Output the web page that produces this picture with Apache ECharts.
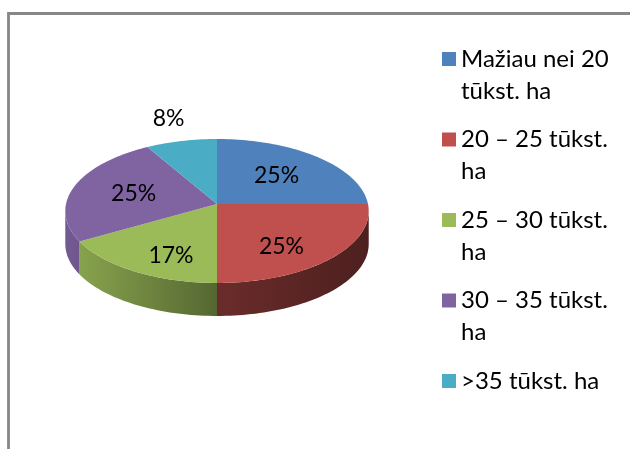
<!DOCTYPE html>
<html><head><meta charset="utf-8">
<script src="https://cdn.jsdelivr.net/npm/echarts@6/dist/echarts.min.js"></script>
<style>html,body{margin:0;padding:0;background:#fff}#c{width:630px;height:449px}</style>
</head><body><div id="c"></div>
<script>
// ---- data ----
const categories = ['Mažiau nei 20 tūkst. ha', '20 – 25 tūkst. ha', '25 – 30 tūkst. ha', '30 – 35 tūkst. ha', '>35 tūkst. ha'];
const legendLabels = ['Mažiau nei 20\ntūkst. ha', '20 – 25 tūkst.\nha', '25 – 30 tūkst.\nha', '30 – 35 tūkst.\nha', '>35 tūkst. ha'];
const values = [3, 3, 2, 3, 1];
const colors = ['#4F81BD', '#C0504D', '#9BBB59', '#8064A2', '#4BACC6'];

// ---- 3D pie geometry (perspective ellipse) ----
const total = values.reduce((a, b) => a + b, 0);
const CX = 217, CY = 204, RX = 151, RY = 71.3, K = 0.0972, DEPTH = 33;
const FRONT0 = Math.acos(-K) * 180 / Math.PI;      // ~95.6 deg
const FRONT1 = 360 - FRONT0;                        // ~264.4 deg
function proj(deg, f) {
  const a = deg * Math.PI / 180;
  const u = Math.sin(a) * f, v = Math.cos(a) * f;
  const w = 1 + K * v;
  return [CX + RX * u / w, CY - RY * v / w];
}
function shade(hex, k) {
  const n = parseInt(hex.slice(1), 16);
  const r = Math.round(((n >> 16) & 255) * k), g = Math.round(((n >> 8) & 255) * k), b = Math.round((n & 255) * k);
  return 'rgb(' + r + ',' + g + ',' + b + ')';
}
function arc(a0, a1, dy) {
  const pts = [];
  const n = Math.max(2, Math.ceil((a1 - a0) / 1.5));
  for (let k = 0; k <= n; k++) { const p = proj(a0 + (a1 - a0) * k / n, 1); pts.push([p[0], p[1] + dy]); }
  return pts;
}
function makeRender(i) {
  return function (params, api) {
    const v = api.value(0);
    let start = 0;
    for (let j = 0; j < i; j++) start += values[j];
    const a0 = start / total * 360, a1 = (start + v) / total * 360;
    const col = colors[i];
    const children = [];
    // top face
    const top = [proj(0, 0)].concat(arc(a0, a1, 0));
    children.push({ type: 'polygon', shape: { points: top }, style: { fill: col }, z2: 10 });
    // front wall
    const lo = Math.max(a0, FRONT0), hi = Math.min(a1, FRONT1);
    if (hi > lo) {
      const upper = arc(lo, hi, 0);
      const lower = arc(lo, hi, DEPTH).reverse();
      children.push({
        type: 'polygon', shape: { points: upper.concat(lower) }, z2: 2,
        style: {
          fill: {
            type: 'linear', x: CX - RX, y: 0, x2: CX + RX, y2: 0, global: true,
            colorStops: [
              { offset: 0, color: shade(col, 0.9) },
              { offset: 0.5, color: shade(col, 0.55) },
              { offset: 1, color: shade(col, 0.4) }
            ]
          }
        }
      });
    }
    // label
    const share = v / total;
    const mid = (a0 + a1) / 2;
    const outside = share < 0.1;
    const p = proj(mid, outside ? 1.4 : 0.58);
    const drop = outside ? 0 : 16.5 * Math.max(0, -Math.cos(mid * Math.PI / 180));
    children.push({
      type: 'text', z2: 20,
      style: {
        text: Math.round(share * 100) + '%', x: p[0], y: p[1] + drop,
        align: 'center', verticalAlign: 'middle',
        fontFamily: 'Lato', fontSize: 23, fill: '#000'
      }
    });
    return { type: 'group', children: children };
  };
}

const chart = echarts.init(document.getElementById('c'), null, { renderer: 'canvas' });
chart.setOption({
  animation: false,
  color: colors,
  graphic: [{
    type: 'rect', silent: true, z: -1,
    shape: { x: 8.5, y: 13.5, width: 700, height: 500 },
    style: { fill: 'none', stroke: '#878787', lineWidth: 2.8 }
  }],
  legend: {
    orient: 'vertical', left: 442, top: 11, padding: 0,
    itemWidth: 14, itemHeight: 14, itemGap: -15.5, icon: 'rect',
    selectedMode: false,
    textStyle: { fontFamily: 'Lato', fontSize: 24, color: '#000', lineHeight: 32 },
    formatter: function (name) {
      const label = legendLabels[categories.indexOf(name)];
      // keep first line level with the marker: one blank line above, pad to 3 lines
      return '\n' + label + (label.indexOf('\n') < 0 ? '\n' : '');
    },
    data: categories
  },
  series: categories.map((name, i) => ({
    type: 'custom', name: name, coordinateSystem: 'none',
    renderItem: makeRender(i), data: [values[i]],
    itemStyle: { color: colors[i] }, silent: true
  }))
});
</script>
</body></html>
